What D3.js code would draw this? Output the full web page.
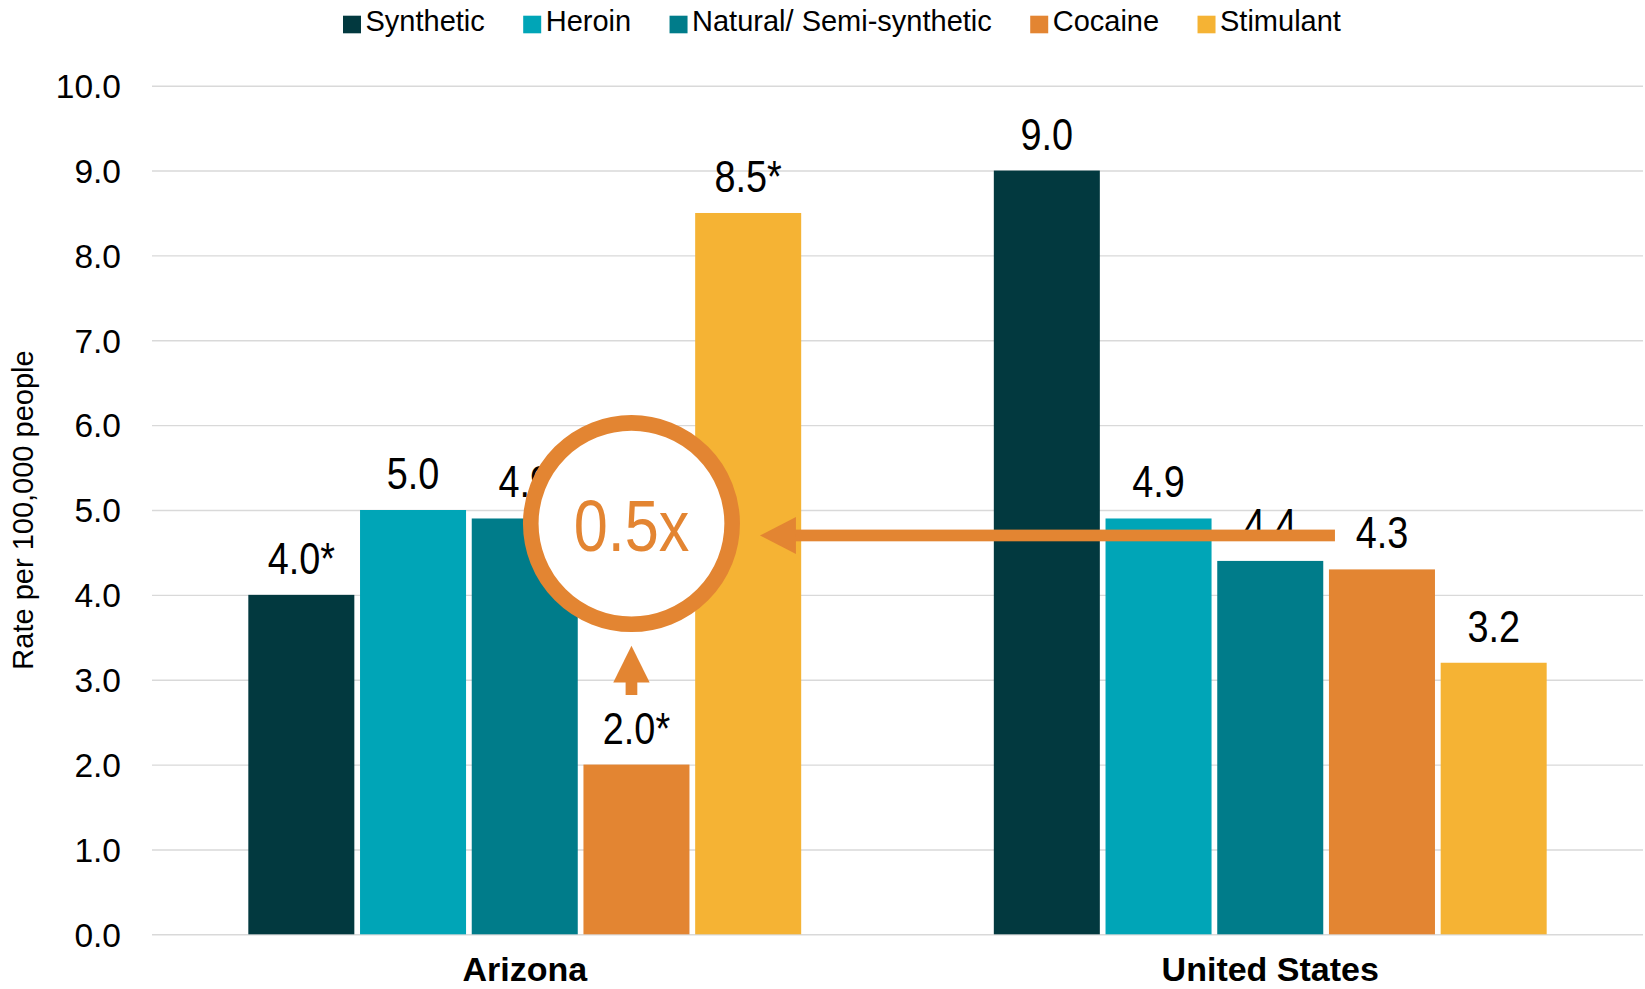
<!DOCTYPE html>
<html>
<head>
<meta charset="utf-8">
<script src="https://cdn.jsdelivr.net/npm/d3@7"></script>
<style>
  html, body { margin: 0; padding: 0; background: #fff; }
  svg { display: block; }
</style>
</head>
<body>
<svg id="chart" width="1645" height="989"></svg>
<script>
// ---- data ----
const categories = ["Arizona", "United States"];
const seriesNames = ["Synthetic", "Heroin", "Natural/ Semi-synthetic", "Cocaine", "Stimulant"];
const seriesColors = ["#02393f", "#00a5b7", "#007c8a", "#e38532", "#f5b334"];
const arizonaValues = [4.0, 5.0, 4.9, 2.0, 8.5];
const arizonaMarks = ["*", "", "", "*", "*"];
const usValues = [9.0, 4.9, 4.4, 4.3, 3.2];
const usMarks = ["", "", "", "", ""];
const yTicks = [0, 1, 2, 3, 4, 5, 6, 7, 8, 9, 10];
const yTitle = "Rate per 100,000 people";
// annotation (in data units)
const annotationText = "0.5x";
const annotationCircleValue = 4.84;
const annotationArrowValue = 4.70;
const annotationUpFrom = 2.82;
const annotationUpTo = 3.40;

const valuesByCategory = [arizonaValues, usValues];
const marksByCategory = [arizonaMarks, usMarks];

// ---- layout ----
const svg = d3.select("#chart");
const plot = { left: 152, right: 1643, top: 85.7, bottom: 934.3 };

const x0 = d3.scaleBand().domain(categories)
  .range([plot.left, plot.right]).paddingInner(0.2584).paddingOuter(0.1292);
const x1 = d3.scaleBand().domain(seriesNames)
  .range([0, x0.bandwidth()]).paddingInner(0.051).paddingOuter(0);
const y = d3.scaleLinear().domain([0, 10]).range([plot.bottom, plot.top]);
const color = d3.scaleOrdinal().domain(seriesNames).range(seriesColors);

// gridlines + y tick labels
const yAxis = d3.axisLeft(y).tickValues(yTicks).tickFormat(d3.format(".1f"))
  .tickSize(-(plot.right - plot.left)).tickPadding(31);
const gy = svg.append("g").attr("transform", `translate(${plot.left},0)`).call(yAxis);
gy.select(".domain").remove();
gy.selectAll(".tick line").attr("stroke", "#d9d9d9").attr("stroke-width", 1.4);
gy.selectAll(".tick text")
  .attr("font-family", "'Liberation Sans', Arial, sans-serif")
  .attr("font-size", 33.5).attr("fill", "#000").attr("dy", "0.35em");

// y title
svg.append("text")
  .attr("transform", `translate(33,${(plot.top + plot.bottom) / 2}) rotate(-90)`)
  .attr("text-anchor", "middle")
  .attr("font-family", "'Liberation Sans', Arial, sans-serif")
  .attr("font-size", 29).attr("fill", "#000")
  .text(yTitle);

// bars
const rows = [];
categories.forEach((c, ci) => {
  seriesNames.forEach((s, si) => {
    rows.push({ cat: c, series: s, value: valuesByCategory[ci][si], mark: marksByCategory[ci][si] });
  });
});

svg.append("g").selectAll("rect").data(rows).join("rect")
  .attr("x", d => x0(d.cat) + x1(d.series))
  .attr("y", d => y(d.value))
  .attr("width", x1.bandwidth())
  .attr("height", d => y(0) - y(d.value))
  .attr("fill", d => color(d.series));

// value labels (condensed look)
const labelG = svg.append("g").selectAll("g").data(rows).join("g")
  .attr("transform", d => `translate(${x0(d.cat) + x1(d.series) + x1.bandwidth() / 2},${y(d.value) - 21}) scale(0.86,1)`);
labelG.append("text")
  .attr("text-anchor", "middle")
  .attr("font-family", "'Liberation Sans', Arial, sans-serif")
  .attr("font-size", 44).attr("fill", "#000")
  .text(d => d3.format(".1f")(d.value) + d.mark);

// category labels
svg.append("g").selectAll("text").data(categories).join("text")
  .attr("x", d => x0(d) + x0.bandwidth() / 2)
  .attr("y", 981)
  .attr("text-anchor", "middle")
  .attr("font-family", "'Liberation Sans', Arial, sans-serif")
  .attr("font-weight", "bold")
  .attr("font-size", 34).attr("fill", "#000")
  .text(d => d);

// ---- annotation ----
const orange = seriesColors[3];
const cocaineCenterAZ = x0(categories[0]) + x1("Cocaine") + x1.bandwidth() / 2;
const cx = cocaineCenterAZ - 5;
const cy = y(annotationCircleValue);
const ringR = 100.7, ringW = 15.6;
const ann = svg.append("g");

// horizontal arrow from US cocaine bar to circle
const arrowY = y(annotationArrowValue);
const arrowStart = x0(categories[1]) + x1("Cocaine") + 6;
const tipX = cx + ringR + ringW / 2 + 20;
const headLen = 36, headHalf = 18.5, shaftW = 11.7;
ann.append("rect")
  .attr("x", tipX + headLen - 1).attr("y", arrowY - shaftW / 2)
  .attr("width", arrowStart - (tipX + headLen - 1)).attr("height", shaftW)
  .attr("fill", orange);
ann.append("path")
  .attr("d", `M${tipX},${arrowY} L${tipX + headLen},${arrowY - headHalf} L${tipX + headLen},${arrowY + headHalf} Z`)
  .attr("fill", orange);

// up arrow from cocaine label to circle
const upTip = y(annotationUpTo), upBase = y(annotationUpFrom);
const upHead = 36.7;
ann.append("rect")
  .attr("x", cx - shaftW / 2).attr("y", upTip + upHead - 1)
  .attr("width", shaftW).attr("height", upBase - (upTip + upHead - 1))
  .attr("fill", orange);
ann.append("path")
  .attr("d", `M${cx},${upTip} L${cx - 18.2},${upTip + upHead} L${cx + 18.2},${upTip + upHead} Z`)
  .attr("fill", orange);

// circle
ann.append("circle")
  .attr("cx", cx).attr("cy", cy).attr("r", ringR)
  .attr("fill", "#fff").attr("stroke", orange).attr("stroke-width", ringW);
ann.append("g")
  .attr("transform", `translate(${cx},${cy + 27.5}) scale(0.85,1)`)
  .append("text")
  .attr("text-anchor", "middle")
  .attr("font-family", "'Liberation Sans', Arial, sans-serif")
  .attr("font-size", 72).attr("fill", orange)
  .text(annotationText);

// ---- legend ----
const legend = svg.append("g");
let lx = 343;
seriesNames.forEach((s, i) => {
  legend.append("rect").attr("x", lx).attr("y", 15.7).attr("width", 18).attr("height", 17.6)
    .attr("fill", seriesColors[i]);
  const t = legend.append("text").attr("x", lx + 22.5).attr("y", 31.2)
    .attr("font-family", "'Liberation Sans', Arial, sans-serif")
    .attr("font-size", 29).attr("fill", "#000").text(s);
  const w = t.node().getComputedTextLength();
  lx = lx + 22.5 + w + 38.4;
});
</script>
</body>
</html>
